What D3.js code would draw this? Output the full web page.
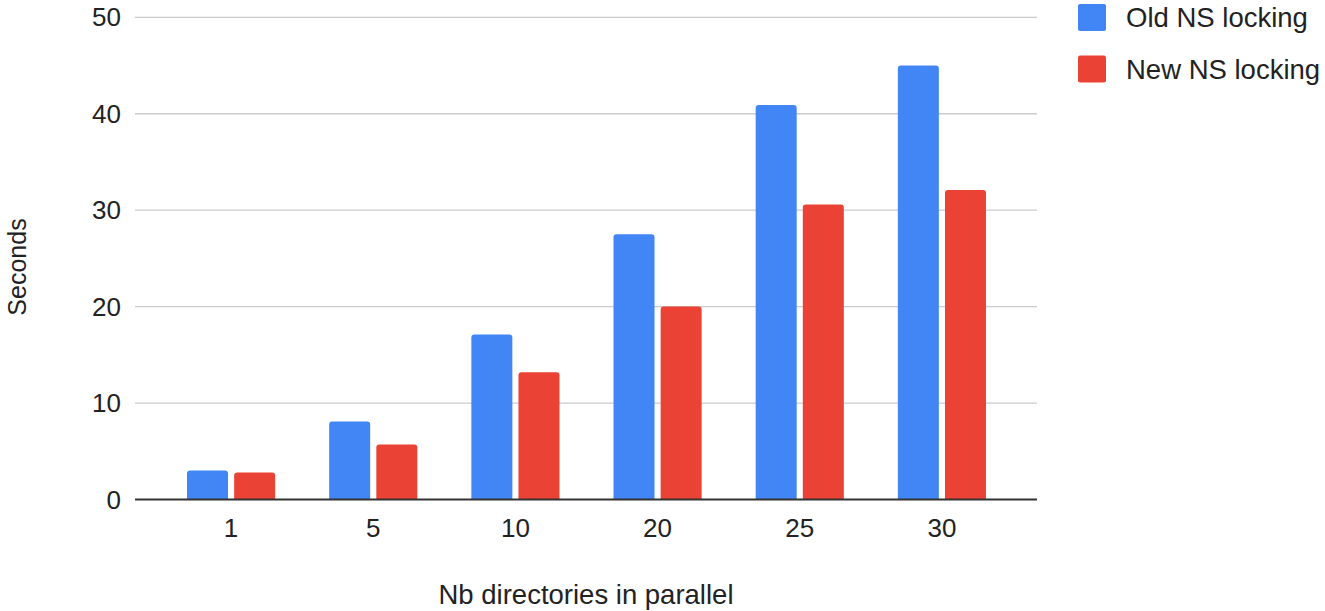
<!DOCTYPE html>
<html>
<head>
<meta charset="utf-8">
<script src="https://cdn.jsdelivr.net/npm/d3@7"></script>
<style>
  body { margin: 0; background: #fff; }
  svg text { font-family: "Liberation Sans", Arial, sans-serif; fill: #222; }
</style>
</head>
<body>
<svg id="chart" width="1325" height="611"></svg>
<script>
// data
var categories = ['1', '5', '10', '20', '25', '30'];
var seriesNames = ['Old NS locking', 'New NS locking'];
var oldLocking = [3.0, 8.1, 17.1, 27.5, 40.9, 45.0];
var newLocking = [2.8, 5.7, 13.2, 20.0, 30.6, 32.1];
var yTicks = [0, 10, 20, 30, 40, 50];
var colors = ['#4285f4', '#ea4335'];

var svg = d3.select('#chart');
var plotLeft = 135, plotRight = 1037, plotTop = 17.3, plotBottom = 499.5;

var y = d3.scaleLinear().domain([0, 50]).range([plotBottom, plotTop]);
var x = d3.scaleBand().domain(categories).range([160, 1013]).paddingInner(0.38).paddingOuter(0.19);
var xs = d3.scaleBand().domain(seriesNames).range([0, x.bandwidth()]).paddingInner(0.13);

// gridlines
svg.append('g').selectAll('line')
    .data(yTicks.filter(function (d) { return d > 0; }))
    .enter().append('line')
    .attr('x1', plotLeft).attr('x2', plotRight)
    .attr('y1', function (d) { return y(d); })
    .attr('y2', function (d) { return y(d); })
    .attr('stroke', '#cccccc').attr('stroke-width', 1.3);

// y tick labels
svg.append('g').selectAll('text')
    .data(yTicks)
    .enter().append('text')
    .attr('x', 121)
    .attr('y', function (d) { return y(d) + 9; })
    .attr('text-anchor', 'end')
    .attr('font-size', 26)
    .text(function (d) { return d; });

// bars with rounded tops
function barPath(x0, w, top, bottom) {
    var r = Math.min(3, (bottom - top) / 2);
    return 'M' + x0 + ',' + bottom +
        'V' + (top + r) +
        'Q' + x0 + ',' + top + ' ' + (x0 + r) + ',' + top +
        'H' + (x0 + w - r) +
        'Q' + (x0 + w) + ',' + top + ' ' + (x0 + w) + ',' + (top + r) +
        'V' + bottom + 'Z';
}

var series = [oldLocking, newLocking];
series.forEach(function (vals, si) {
    svg.append('g').selectAll('path')
        .data(vals)
        .enter().append('path')
        .attr('fill', colors[si])
        .attr('d', function (d, i) {
            var x0 = x(categories[i]) + xs(seriesNames[si]);
            return barPath(x0, xs.bandwidth(), y(d), y(0));
        });
});

// zero baseline
svg.append('line')
    .attr('x1', plotLeft).attr('x2', plotRight)
    .attr('y1', y(0)).attr('y2', y(0))
    .attr('stroke', '#333').attr('stroke-width', 2);

// x tick labels
svg.append('g').selectAll('text')
    .data(categories)
    .enter().append('text')
    .attr('x', function (d) { return x(d) + x.bandwidth() / 2; })
    .attr('y', 537)
    .attr('text-anchor', 'middle')
    .attr('font-size', 26)
    .text(function (d) { return d; });

// axis titles
svg.append('text')
    .attr('x', 586).attr('y', 604)
    .attr('text-anchor', 'middle')
    .attr('font-size', 27.5)
    .text('Nb directories in parallel');

svg.append('text')
    .attr('transform', 'translate(26,267) rotate(-90)')
    .attr('text-anchor', 'middle')
    .attr('font-size', 25)
    .text('Seconds');

// legend
var legend = svg.append('g').selectAll('g')
    .data(seriesNames)
    .enter().append('g')
    .attr('transform', function (d, i) { return 'translate(1078,' + (4 + i * 51.5) + ')'; });

legend.append('rect')
    .attr('width', 28).attr('height', 27).attr('rx', 2)
    .attr('fill', function (d, i) { return colors[i]; });

legend.append('text')
    .attr('x', 48).attr('y', 23)
    .attr('font-size', 27.5)
    .text(function (d) { return d; });
</script>
</body>
</html>
